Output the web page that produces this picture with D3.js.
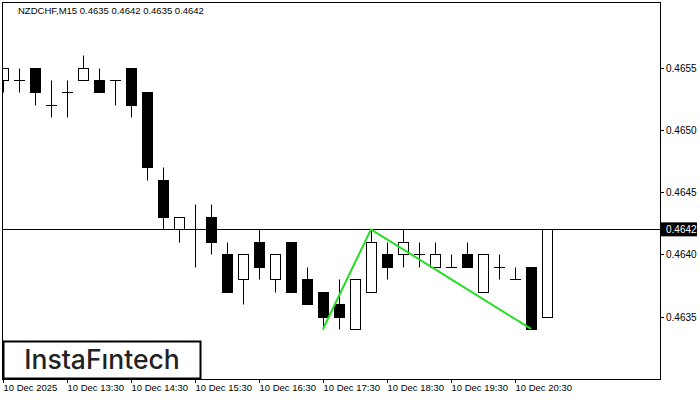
<!DOCTYPE html>
<html>
<head>
<meta charset="utf-8">
<script src="https://cdn.jsdelivr.net/npm/d3@7"></script>
<style>
  body { margin: 0; background: #fff; }
  svg { display: block; font-family: "Liberation Sans", Arial, sans-serif; }
</style>
</head>
<body>
<div id="chart"></div>
<script>
// OHLC of NZDCHF M15, one candle per quarter hour from 10 Dec 12:30
const opens  = [0.4654,0.4654,0.4655,0.4652,0.4653,0.4654,0.4654,0.4654,0.4655,0.4653,0.4646,0.4642,0.4642,0.4643,0.4640,0.4638,0.4641,0.4638,0.4641,0.4638,0.4637,0.4636,0.4634,0.4637,0.4640,0.4640,0.4640,0.4639,0.4639,0.4640,0.4637,0.4639,0.4638,0.4639,0.4635];
const highs  = [0.4655,0.4655,0.4655,0.4654,0.4654,0.4656,0.4655,0.4654,0.4655,0.4653,0.4647,0.4643,0.4644,0.4644,0.4641,0.4640,0.4642,0.4640,0.4641,0.4639,0.4637,0.4638,0.4638,0.4642,0.4641,0.4642,0.4641,0.4641,0.4640,0.4641,0.4640,0.4640,0.4639,0.4639,0.4642];
const lows   = [0.4653,0.4653,0.4652,0.4651,0.4651,0.4654,0.4653,0.4652,0.4651,0.4646,0.4642,0.4641,0.4639,0.4640,0.4637,0.4636,0.4638,0.4637,0.4637,0.4636,0.4634,0.4634,0.4634,0.4637,0.4638,0.4639,0.4639,0.4639,0.4639,0.4639,0.4637,0.4638,0.4638,0.4634,0.4635];
const closes = [0.4655,0.4654,0.4653,0.4652,0.4653,0.4655,0.4653,0.4654,0.4652,0.4647,0.4643,0.4643,0.4642,0.4641,0.4637,0.4640,0.4639,0.4640,0.4637,0.4636,0.4635,0.4635,0.4638,0.4641,0.4639,0.4641,0.4640,0.4640,0.4639,0.4639,0.4640,0.4639,0.4638,0.4634,0.4642];
const priceTicks = [0.4635, 0.4640, 0.4645, 0.4650, 0.4655];
const timeLabels = ["10 Dec 2025","10 Dec 13:30","10 Dec 14:30","10 Dec 15:30","10 Dec 16:30","10 Dec 17:30","10 Dec 18:30","10 Dec 19:30","10 Dec 20:30"];
const timeLabelIdx = [0,4,8,12,16,20,24,28,32];
const patternIdx = [20, 23, 33];
const patternPrice = [0.4634, 0.4642, 0.4634];
const currentPrice = 0.4642;

const width = 700, height = 400;
const pLeft = 2, pRight = 660, pTop = 2, pBottom = 379;

const svg = d3.select("#chart").append("svg")
  .attr("width", width).attr("height", height);

const x = d3.scaleLinear().domain([0, 1]).range([3, 19]);
const y = d3.scaleLinear().domain([0.4635, 0.4655]).range([316.5, 67.5]);

// frame
svg.append("rect").attr("x", pLeft + 0.5).attr("y", pTop + 0.5)
  .attr("width", pRight - pLeft).attr("height", pBottom - pTop)
  .attr("fill", "none").attr("stroke", "#000");

svg.append("clipPath").attr("id", "clip").append("rect")
  .attr("x", pLeft + 1).attr("y", pTop + 1).attr("width", pRight - pLeft - 1).attr("height", pBottom - pTop - 1);
const g = svg.append("g").attr("clip-path", "url(#clip)");

const px = v => Math.round(y(v)) + 0.5;

// current price line
g.append("line").attr("x1", pLeft).attr("x2", pRight)
  .attr("y1", px(currentPrice)).attr("y2", px(currentPrice))
  .attr("stroke", "#000");

const idx = d3.range(opens.length);

g.selectAll("line.wick").data(idx).join("line").attr("class", "wick")
  .attr("x1", i => Math.round(x(i)) + 0.5).attr("x2", i => Math.round(x(i)) + 0.5)
  .attr("y1", i => px(highs[i])).attr("y2", i => px(lows[i]))
  .attr("stroke", "#000");

g.selectAll("rect.body").data(idx.filter(i => opens[i] !== closes[i])).join("rect").attr("class", "body")
  .attr("x", i => Math.round(x(i)) - 4.5)
  .attr("width", 10)
  .attr("y", i => px(Math.max(opens[i], closes[i])))
  .attr("height", i => px(Math.min(opens[i], closes[i])) - px(Math.max(opens[i], closes[i])))
  .attr("fill", i => closes[i] < opens[i] ? "#000" : "#fff")
  .attr("stroke", "#000");

// doji crossbars
g.selectAll("line.doji").data(idx.filter(i => opens[i] === closes[i])).join("line").attr("class", "doji")
  .attr("x1", i => Math.round(x(i)) - 5).attr("x2", i => Math.round(x(i)) + 6)
  .attr("y1", i => px(opens[i])).attr("y2", i => px(opens[i]))
  .attr("stroke", "#000");

// pattern line
g.append("path")
  .attr("d", d3.line().x(d => x(d)).y((d, k) => y(patternPrice[k]))(patternIdx))
  .attr("fill", "none").attr("stroke", "#22dd22").attr("stroke-width", 2);

// price axis
priceTicks.forEach(p => {
  svg.append("line").attr("x1", pRight).attr("x2", pRight + 4)
    .attr("y1", px(p)).attr("y2", px(p)).attr("stroke", "#000");
  svg.append("text").attr("x", 666).attr("y", y(p) + 4)
    .attr("font-size", 10).attr("fill", "#000").text(p.toFixed(4));
});
svg.append("rect").attr("x", pRight + 1).attr("y", y(currentPrice) - 7)
  .attr("width", 36).attr("height", 14).attr("fill", "#000");
svg.append("text").attr("x", 666).attr("y", y(currentPrice) + 4)
  .attr("font-size", 10).attr("fill", "#fff").text(currentPrice.toFixed(4));

// time axis
timeLabelIdx.forEach((i, k) => {
  const tx = Math.round(x(i)) + 0.5;
  svg.append("line").attr("x1", tx).attr("x2", tx)
    .attr("y1", pBottom).attr("y2", pBottom + 4).attr("stroke", "#000");
  svg.append("text").attr("x", tx).attr("y", 391)
    .attr("font-size", 9.5).attr("fill", "#000").text(timeLabels[k]);
});

// header
svg.append("text").attr("x", 18).attr("y", 14).attr("font-size", 9.5)
  .text("NZDCHF,M15  0.4635 0.4642 0.4635 0.4642");

// logo
svg.append("rect").attr("x", 3.5).attr("y", 341.5).attr("width", 197).attr("height", 37)
  .attr("fill", "#fff").attr("stroke", "#000").attr("stroke-width", 2);
svg.append("text").attr("x", 102).attr("y", 369).attr("text-anchor", "middle")
  .attr("font-family", "Inter, 'Noto Sans', sans-serif").attr("font-size", 26.5).attr("font-weight", 500)
  .attr("fill", "#222").text("InstaFıntech");
</script>
</body>
</html>
